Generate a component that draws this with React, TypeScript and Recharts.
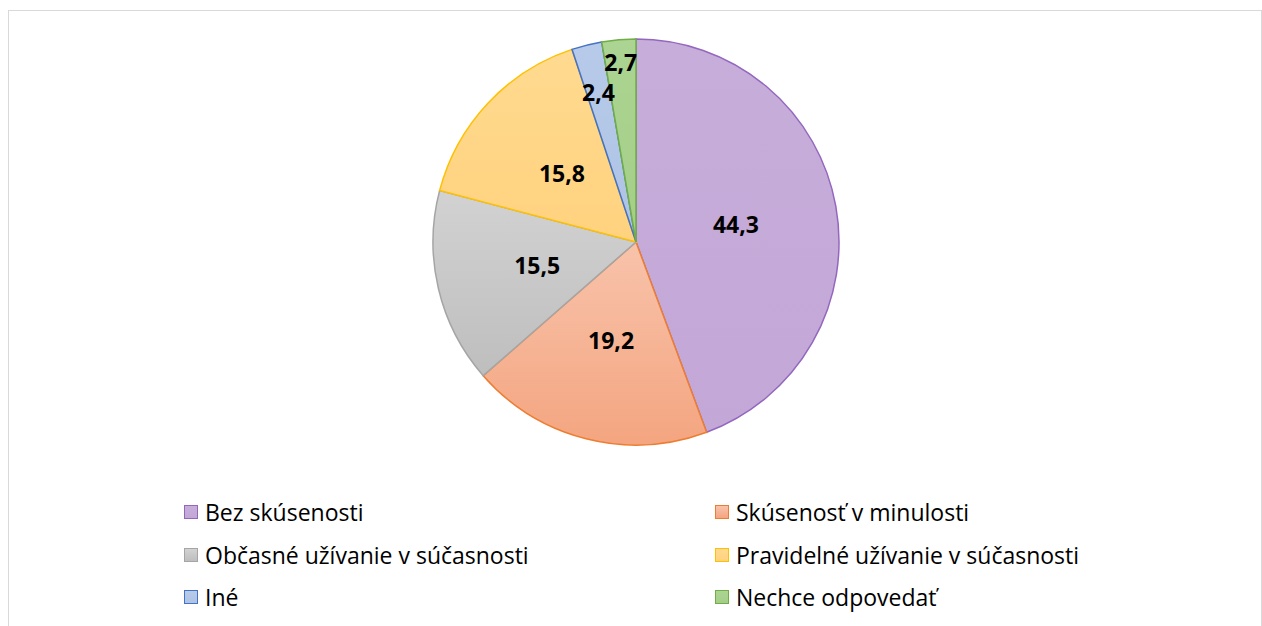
import { Pie, PieChart, Cell, Legend } from "recharts";

const categories = [
  "Bez skúsenosti",
  "Skúsenosť v minulosti",
  "Občasné užívanie v súčasnosti",
  "Pravidelné užívanie v súčasnosti",
  "Iné",
  "Nechce odpovedať",
];
const values = [44.3, 19.2, 15.5, 15.8, 2.4, 2.7];

const FILL_TOP = ["#C7ADDA", "#F8C3AB", "#D2D2D2", "#FFDA90", "#B7CAE9", "#ACD492"];
const FILL_BOTTOM = ["#C3A8D7", "#F4A580", "#BEBEBE", "#FFD27E", "#AEC3E5", "#A4CE88"];
const STROKES = ["#9467BF", "#ED7D31", "#A5A5A5", "#FFC000", "#4472C4", "#70AD47"];

const data = categories.map((name, i) => ({ name, value: values[i] }));

const FONT = "'Open Sans', sans-serif";
const RADIAN = Math.PI / 180;

// small slices get their labels pushed out toward the rim, like Excel's best fit
function renderLabel(props: any) {
  const { cx, cy, midAngle, outerRadius, value, percent } = props;
  let f = 0.5;
  if (percent < 0.025) f = 0.76;
  else if (percent < 0.03) f = 0.89;
  const r = outerRadius * f;
  const x = cx + r * Math.cos(-midAngle * RADIAN);
  const y = cy + r * Math.sin(-midAngle * RADIAN);
  return (
    <text
      x={x}
      y={y}
      textAnchor="middle"
      dominantBaseline="central"
      fill="#000"
      fontFamily={FONT}
      fontWeight={700}
      fontSize={23}
    >
      {String(value).replace(".", ",")}
    </text>
  );
}

function LegendBox() {
  const colX = [175, 706];
  return (
    <div style={{ position: "relative", width: 1252, height: 130, fontFamily: FONT, fontSize: 23 }}>
      {categories.map((c, i) => (
        <div
          key={c}
          style={{
            position: "absolute",
            left: colX[i % 2],
            top: Math.floor(i / 2) * 42.5,
            display: "flex",
            alignItems: "center",
            color: "#000",
            whiteSpace: "nowrap",
            lineHeight: "30px",
          }}
        >
          <span
            style={{
              display: "inline-block",
              width: 14,
              height: 14,
              boxSizing: "border-box",
              background: `linear-gradient(${FILL_TOP[i]}, ${FILL_BOTTOM[i]})`,
              border: `1.5px solid ${STROKES[i]}`,
              marginRight: 7,
            }}
          />
          <span>{c}</span>
        </div>
      ))}
    </div>
  );
}

export default function App() {
  return (
    <>
      <style>{`body{margin:0;overflow:hidden}`}</style>
      <div
        style={{
          position: "absolute",
          left: 8,
          top: 10,
          width: 1252,
          height: 620,
          borderTop: "1px solid #D9D9D9",
          borderLeft: "1px solid #D9D9D9",
          borderRight: "1px solid #D9D9D9",
          background: "#fff",
          overflow: "hidden",
        }}
      >
        <PieChart width={1252} height={620} margin={{ top: 0, right: 0, bottom: 0, left: 0 }}>
          <defs>
            {FILL_TOP.map((c, i) => (
              <linearGradient key={i} id={`grad-${i}`} x1="0" y1="0" x2="0" y2="1">
                <stop offset="0%" stopColor={c} />
                <stop offset="100%" stopColor={FILL_BOTTOM[i]} />
              </linearGradient>
            ))}
          </defs>
          <Pie
            data={data}
            dataKey="value"
            nameKey="name"
            cx={627}
            cy={231}
            outerRadius={203}
            startAngle={90}
            endAngle={-270}
            label={renderLabel}
            labelLine={false}
            isAnimationActive={false}
          >
            {data.map((entry, index) => (
              <Cell
                key={`cell-${index}`}
                fill={`url(#grad-${index})`}
                stroke={STROKES[index]}
                strokeWidth={1.5}
              />
            ))}
          </Pie>
          <Legend
            content={() => <LegendBox />}
            wrapperStyle={{ position: "absolute", top: 486, left: 0, width: 1252 }}
          />
        </PieChart>
      </div>
    </>
  );
}
